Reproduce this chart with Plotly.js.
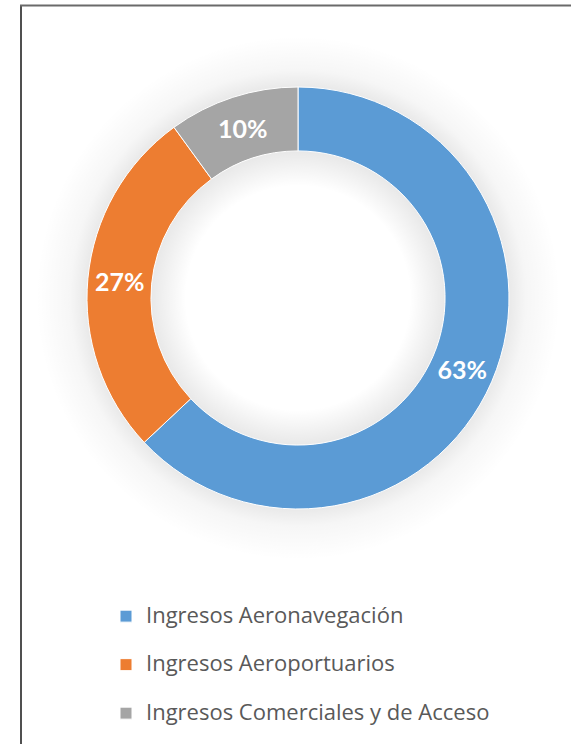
<!DOCTYPE html>
<html>
<head>
<meta charset="utf-8">
<script src="https://cdn.plot.ly/plotly-3.0.1.min.js"></script>
<style>
  html, body { margin: 0; padding: 0; background: #ffffff; }
  #chart {
    width: 571px; height: 744px;
    background: radial-gradient(circle at 298px 298px,
      rgba(0,0,0,0) 0px, rgba(0,0,0,0) 112px,
      rgba(0,0,0,0.09) 147px, rgba(0,0,0,0.09) 210px,
      rgba(0,0,0,0.035) 228px, rgba(0,0,0,0) 262px);
  }
</style>
</head>
<body>
<div id="chart"></div>
<script>
const categories = ["Ingresos Aeronavegación", "Ingresos Aeroportuarios", "Ingresos Comerciales y de Acceso"];
const values = [63, 27, 10];
const colors = ["#5B9BD5", "#ED7D31", "#A5A5A5"];

const W = 571, H = 744;
const cx = 298, cy = 298, R = 211;

const trace = {
  type: "pie",
  labels: categories.map(c => "&nbsp;<br><span style=\"font-size:22px\">" + c + "</span>"),
  values: values,
  sort: false,
  direction: "clockwise",
  rotation: 0,
  hole: 0.697,
  marker: { colors: colors, line: { color: "#ffffff", width: 1 } },
  texttemplate: "%{value}%",
  textposition: "inside",
  insidetextorientation: "horizontal",
  insidetextfont: { family: "Lato, 'Open Sans', sans-serif", size: 25, color: "#ffffff", weight: "bold" },
  domain: { x: [(cx - R) / W, (cx + R) / W], y: [(H - cy - R) / H, (H - cy + R) / H] },
  hoverinfo: "percent"
};

const layout = {
  width: W, height: H,
  margin: { l: 0, r: 0, t: 0, b: 0, autoexpand: false },
  paper_bgcolor: "rgba(0,0,0,0)",
  plot_bgcolor: "rgba(0,0,0,0)",
  showlegend: true,
  legend: {
    x: 106 / W, xanchor: "left",
    y: 1 - 575.5 / H, yanchor: "top",
    orientation: "v",
    valign: "bottom",
    font: { family: "'Open Sans', Lato, sans-serif", size: 17.5, color: "#595959" },
    bgcolor: "rgba(0,0,0,0)"
  },
  shapes: [
    { type: "line", xref: "paper", yref: "paper", x0: 21 / W, x1: 21 / W, y0: 0, y1: 1 - 5.5 / H, line: { color: "#505050", width: 2 } },
    { type: "line", xref: "paper", yref: "paper", x0: 20 / W, x1: 1, y0: 1 - 5.5 / H, y1: 1 - 5.5 / H, line: { color: "#6a6a6a", width: 2 } }
  ]
};

Plotly.newPlot("chart", [trace], layout, { staticPlot: true, displayModeBar: false });
</script>
</body>
</html>
